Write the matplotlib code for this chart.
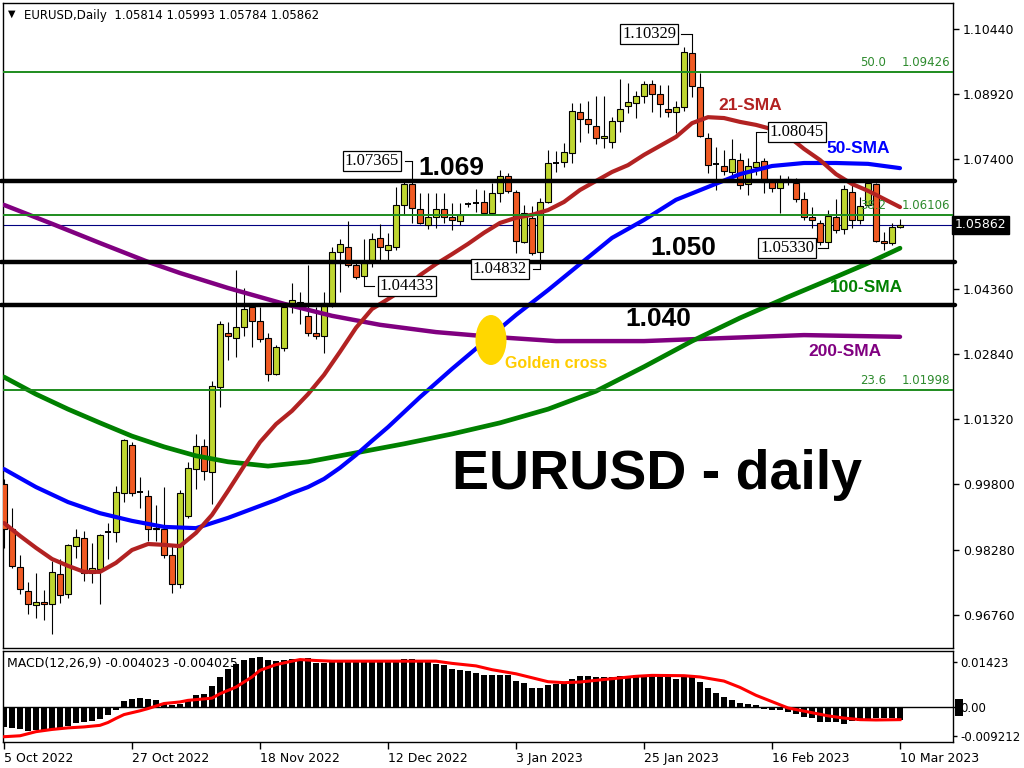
import matplotlib
matplotlib.use('Agg')
import matplotlib.pyplot as plt
from matplotlib.patches import Rectangle, Ellipse

# ---------------- data ----------------
date_labels = ['5 Oct 2022', '27 Oct 2022', '18 Nov 2022', '12 Dec 2022',
               '3 Jan 2023', '25 Jan 2023', '16 Feb 2023', '10 Mar 2023']
date_pos = [0, 16, 32, 48, 64, 80, 96, 112]

opens = [0.9982, 0.9875, 0.9788, 0.9732, 0.9699, 0.9706, 0.9702, 0.9772, 0.9725, 0.9837,
         0.9856, 0.9774, 0.9783, 0.9870, 0.9870, 0.9961, 1.0073, 0.9963, 0.9952, 0.9879,
         0.9875, 0.9816, 0.9748, 0.9907, 1.0017, 1.0071, 1.0010, 1.0207, 1.0333, 1.0323,
         1.0347, 1.0394, 1.0361, 1.0323, 1.0239, 1.0298, 1.0398, 1.0407, 1.0373, 1.0335,
         1.0326, 1.0403, 1.0522, 1.0534, 1.0492, 1.0466, 1.0504, 1.0555, 1.0527, 1.0534,
         1.0632, 1.0681, 1.0623, 1.0585, 1.0604, 1.0623, 1.0604, 1.0595, 1.0635, 1.0637,
         1.0639, 1.0614, 1.0660, 1.0700, 1.0663, 1.0546, 1.0602, 1.0522, 1.0639, 1.0730,
         1.0733, 1.0754, 1.0850, 1.0833, 1.0817, 1.0789, 1.0780, 1.0829, 1.0864, 1.0871,
         1.0887, 1.0915, 1.0892, 1.0857, 1.0850, 1.0861, 1.0988, 1.0908, 1.0789, 1.0728,
         1.0723, 1.0709, 1.0737, 1.0681, 1.0721, 1.0735, 1.0686, 1.0672, 1.0693, 1.0684,
         1.0646, 1.0604, 1.0590, 1.0546, 1.0604, 1.0576, 1.0663, 1.0597, 1.0632, 1.0681,
         1.0548, 1.0544, 1.05814]
highs = [0.9994, 0.9926, 0.9816, 0.9753, 0.9774, 0.9734, 0.9802, 0.9807, 0.9842, 0.9875,
         0.9872, 0.9844, 0.9865, 0.9889, 0.9977, 1.0087, 1.0080, 0.9998, 0.9966, 0.9933,
         0.9975, 0.9842, 0.9966, 1.0033, 1.0097, 1.0087, 1.0221, 1.0363, 1.0359, 1.0480,
         1.0438, 1.0396, 1.0394, 1.0333, 1.0307, 1.0403, 1.0450, 1.0429, 1.0492, 1.0394,
         1.0429, 1.0534, 1.0553, 1.0595, 1.0504, 1.0553, 1.0567, 1.0588, 1.0567, 1.0674,
         1.0686, 1.07365, 1.0660, 1.0660, 1.0660, 1.0660, 1.0637, 1.0637, 1.0639, 1.0670,
         1.0667, 1.0684, 1.0714, 1.0707, 1.0667, 1.0632, 1.0630, 1.0649, 1.0761, 1.0759,
         1.0777, 1.0871, 1.0871, 1.0875, 1.0887, 1.0887, 1.0838, 1.0927, 1.0917, 1.0899,
         1.0922, 1.0924, 1.0913, 1.0913, 1.0875, 1.1002, 1.10329, 1.0941, 1.0801, 1.0768,
         1.0761, 1.0787, 1.0754, 1.0742, 1.08045, 1.0742, 1.0691, 1.0702, 1.0700, 1.0695,
         1.0663, 1.0628, 1.0597, 1.0621, 1.0646, 1.0679, 1.0679, 1.0651, 1.0686, 1.0684,
         1.0569, 1.0590, 1.05993]
lows = [0.9832, 0.9786, 0.9725, 0.9678, 0.9669, 0.9664, 0.9631, 0.9704, 0.9716, 0.9809,
        0.9755, 0.9751, 0.9702, 0.9805, 0.9846, 0.9940, 0.9954, 0.9924, 0.9849, 0.9849,
        0.9809, 0.9727, 0.9739, 0.9902, 0.9970, 0.9991, 0.9935, 1.0160, 1.0270, 1.0277,
        1.0328, 1.0302, 1.0312, 1.0221, 1.0235, 1.0293, 1.0380, 1.0354, 1.0328, 1.0319,
        1.0288, 1.0394, 1.0429, 1.0487, 1.0461, 1.04433, 1.0487, 1.0504, 1.0504, 1.0527,
        1.0609, 1.0592, 1.0588, 1.0576, 1.0578, 1.0592, 1.0574, 1.0585, 1.0628, 1.0616,
        1.0611, 1.0611, 1.0639, 1.0660, 1.0520, 1.0544, 1.0515, 1.04832, 1.0637, 1.0709,
        1.0721, 1.0730, 1.0780, 1.0801, 1.0775, 1.0766, 1.0766, 1.0803, 1.0847, 1.0836,
        1.0871, 1.0850, 1.0838, 1.0838, 1.0801, 1.0852, 1.0885, 1.0792, 1.0707, 1.0667,
        1.0702, 1.0686, 1.0670, 1.0656, 1.0702, 1.0660, 1.0663, 1.0614, 1.0680, 1.0639,
        1.0597, 1.0578, 1.0540, 1.0533, 1.0567, 1.0565, 1.0578, 1.0588, 1.0628, 1.0546,
        1.0527, 1.0539, 1.05784]
closes = [0.9877, 0.9790, 0.9737, 0.9702, 0.9706, 0.9702, 0.9776, 0.9723, 0.9839, 0.9858,
          0.9774, 0.9786, 0.9863, 0.9871, 0.9963, 1.0083, 0.9961, 0.9964, 0.9875, 0.9875,
          0.9816, 0.9748, 0.9959, 1.0019, 1.0071, 1.0012, 1.0209, 1.0354, 1.0326, 1.0347,
          1.0391, 1.0363, 1.0319, 1.0239, 1.0302, 1.0394, 1.0412, 1.0394, 1.0335, 1.0328,
          1.0405, 1.0522, 1.0541, 1.0492, 1.0464, 1.0501, 1.0553, 1.0534, 1.0539, 1.0632,
          1.0681, 1.0625, 1.0590, 1.0604, 1.0623, 1.0604, 1.0597, 1.0609, 1.0636, 1.0638,
          1.0614, 1.0660, 1.0700, 1.0665, 1.0548, 1.0614, 1.0520, 1.0639, 1.0730, 1.0731,
          1.0756, 1.0852, 1.0833, 1.0822, 1.0789, 1.0794, 1.0829, 1.0857, 1.0873, 1.0887,
          1.0915, 1.0892, 1.0868, 1.0850, 1.0861, 1.0990, 1.0910, 1.0794, 1.0726, 1.0727,
          1.0712, 1.0740, 1.0679, 1.0723, 1.0733, 1.0686, 1.0672, 1.0691, 1.0690, 1.0646,
          1.0604, 1.0597, 1.0546, 1.0607, 1.0574, 1.0670, 1.0597, 1.0630, 1.0684, 1.0548,
          1.0544, 1.0581, 1.05862]

sma21_idx = [0, 2, 4, 6, 8, 10, 12, 14, 16, 18, 20, 22, 24, 26, 28, 30, 32, 34, 36, 38,
             40, 42, 44, 46, 48, 50, 52, 54, 56, 58, 60, 62, 64, 66, 68, 70, 72, 74, 76, 78,
             80, 82, 84, 86, 88, 90, 92, 94, 96, 98, 100, 102, 104, 106, 108, 110, 112]
sma21_val = [0.9890, 0.9860, 0.9832, 0.9806, 0.9790, 0.9776, 0.9776, 0.9797, 0.9827, 0.9841,
             0.9839, 0.9836, 0.9867, 0.9909, 0.9965, 1.0023, 1.0079, 1.0121, 1.0152, 1.0191,
             1.0236, 1.0290, 1.0346, 1.0390, 1.0413, 1.0437, 1.0469, 1.0495, 1.0518, 1.0542,
             1.0568, 1.0591, 1.0603, 1.0610, 1.0621, 1.0640, 1.0668, 1.0689, 1.0710, 1.0726,
             1.0750, 1.0771, 1.0792, 1.0824, 1.0838, 1.0836, 1.0827, 1.0820, 1.0810, 1.0794,
             1.0764, 1.0738, 1.0705, 1.0682, 1.0666, 1.0647, 1.0628]

sma50_idx = [0, 4, 8, 12, 16, 20, 24, 28, 32, 34, 36, 38, 40, 42, 44, 46, 48, 52, 56, 60,
             64, 68, 72, 76, 80, 84, 88, 92, 96, 100, 104, 108, 112]
sma50_val = [1.0016, 0.9974, 0.9939, 0.9913, 0.9895, 0.9881, 0.9878, 0.9902, 0.9930, 0.9944,
             0.9960, 0.9974, 0.9993, 1.0019, 1.0049, 1.0082, 1.0114, 1.0184, 1.0250, 1.0313,
             1.0376, 1.0434, 1.0495, 1.0556, 1.0598, 1.0645, 1.0675, 1.0705, 1.0724, 1.0731,
             1.0731, 1.0729, 1.0719]

sma100_idx = [0, 4, 8, 12, 16, 20, 24, 28, 33, 38, 44, 50, 56, 62, 68, 74, 80, 86, 92, 98,
              104, 108, 112]
sma100_val = [1.0231, 1.0191, 1.0156, 1.0124, 1.0093, 1.0068, 1.0047, 1.0033, 1.0023, 1.0033,
              1.0054, 1.0075, 1.0098, 1.0124, 1.0156, 1.0198, 1.0255, 1.0315, 1.0369, 1.0418,
              1.0465, 1.0497, 1.0532]

sma200_idx = [0, 6, 12, 18, 22, 28, 35, 41, 47, 54, 61, 69, 80, 87, 100, 112]
sma200_val = [1.0633, 1.0589, 1.0544, 1.0500, 1.0474, 1.0439, 1.0402, 1.0374, 1.0353, 1.0336,
              1.0325, 1.0315, 1.0315, 1.0320, 1.0329, 1.0325]

macd_hist = [-0.0063, -0.0065, -0.0069, -0.0076, -0.0074, -0.0074, -0.0069, -0.0069, -0.0060, -0.0050,
             -0.0047, -0.0045, -0.0037, -0.0026, -0.0008, 0.0018, 0.0026, 0.0030, 0.0026, 0.0023,
             0.0013, 0.0005, 0.0011, 0.0018, 0.0039, 0.0042, 0.0066, 0.0095, 0.0121, 0.0135,
             0.0150, 0.0156, 0.0159, 0.0150, 0.0145, 0.0150, 0.0152, 0.0152, 0.0154, 0.0138,
             0.0138, 0.0144, 0.0150, 0.0150, 0.0148, 0.0148, 0.0148, 0.0148, 0.0148, 0.0148,
             0.0153, 0.0153, 0.0148, 0.0148, 0.0137, 0.0132, 0.0121, 0.0118, 0.0115, 0.0109,
             0.0102, 0.0102, 0.0102, 0.0100, 0.0083, 0.0075, 0.0059, 0.0059, 0.0069, 0.0074,
             0.0074, 0.0089, 0.0097, 0.0099, 0.0095, 0.0095, 0.0095, 0.0097, 0.0097, 0.0100,
             0.0102, 0.0099, 0.0099, 0.0095, 0.0087, 0.0097, 0.0094, 0.0079, 0.0059, 0.0044,
             0.0032, 0.0022, 0.0012, 0.0009, 0.0005, -0.0005, -0.0011, -0.0011, -0.0016, -0.0023,
             -0.0031, -0.0036, -0.0048, -0.0048, -0.0048, -0.0053, -0.0043, -0.0045, -0.0038, -0.0036,
             -0.0036, -0.0036, -0.0040]

sig_idx = [0, 2, 4, 6, 8, 10, 12, 13, 14, 15, 17, 18, 19, 20, 22, 23, 26, 27, 29, 31,
           32, 34, 36, 37, 39, 41, 54, 56, 59, 61, 64, 68, 70, 72, 75, 77, 79, 81, 85, 87,
           90, 92, 94, 96, 98, 101, 103, 105, 107, 109, 112]
sig_val = [-0.0094, -0.0091, -0.0078, -0.0071, -0.0066, -0.0063, -0.0058, -0.0049, -0.0036, -0.0024,
           -0.0012, -0.0005, 0.0003, 0.0011, 0.0016, 0.0021, 0.0028, 0.0042, 0.0063, 0.0095,
           0.0116, 0.0134, 0.0145, 0.0150, 0.0147, 0.0145, 0.0145, 0.0138, 0.0130, 0.0118,
           0.0105, 0.0080, 0.0077, 0.0079, 0.0087, 0.0092, 0.0097, 0.0100, 0.0099, 0.0095,
           0.0082, 0.0062, 0.0037, 0.0017, -0.0003, -0.0018, -0.0028, -0.0035, -0.0040, -0.0041,
           -0.0040]

price_ticks = [1.10440, 1.08920, 1.07400, 1.04360, 1.02840, 1.01320, 0.99800, 0.98280, 0.96760]
macd_ticks = [0.01423, 0.0, -0.009212]
macd_tick_labels = ['0.01423', '0.00', '-0.009212']

sr_levels = [1.069, 1.050, 1.040]
sr_labels = ['1.069', '1.050', '1.040']
fib_levels = [1.09426, 1.06106, 1.01998]
fib_names = ['50.0', '38.2', '23.6']
last_price = 1.05862

# ---------------- layout helpers ----------------
W, H = 1024, 768


def bx(px):
    return (px - 4) / 8.0


def py(pix):
    return 1.1044 - (pix - 29) / 4281.0


fig = plt.figure(figsize=(10.24, 7.68), dpi=100)
fig.patch.set_facecolor('white')
ax = fig.add_axes([3 / W, 1 - 648 / H, 950 / W, 645 / H])
axm = fig.add_axes([3 / W, 1 - 742 / H, 950 / W, 91 / H])

for a in (ax, axm):
    for s in a.spines.values():
        s.set_color('black')
        s.set_linewidth(1.0)
    a.set_facecolor('white')
    a.set_xlim(bx(3), bx(953))

ax.set_ylim(py(648), py(3))
axm.set_ylim(-35 / 3162.0, 56 / 3162.0)

bull = '#BFD630'
bear = '#F05A23'

# candles
for i, (o, h, l, c) in enumerate(zip(opens, highs, lows, closes)):
    ax.plot([i, i], [l, h], color='black', lw=0.8, zorder=3, solid_capstyle='butt')
    if abs(c - o) < 0.00015:
        ax.plot([i - 0.4, i + 0.4], [o, o], color='black', lw=1.4, zorder=4, solid_capstyle='butt')
    else:
        col = bull if c > o else bear
        ax.add_patch(Rectangle((i - 0.38, min(o, c)), 0.76, abs(c - o), facecolor=col,
                               edgecolor='black', lw=0.8, zorder=4))

# moving averages
line_kw = dict(zorder=5, solid_capstyle='round', solid_joinstyle='round')
ax.plot(sma200_idx, sma200_val, color='#800080', lw=3.2, **line_kw)
ax.plot(sma100_idx, sma100_val, color='#008000', lw=3.4, **line_kw)
ax.plot(sma50_idx, sma50_val, color='#0000FF', lw=3.0, **line_kw)
ax.plot(sma21_idx, sma21_val, color='#B22222', lw=3.0, **line_kw)

# current price line
ax.axhline(last_price, color='#000080', lw=0.8, zorder=2)

# fibonacci lines
for lv, nm in zip(fib_levels, fib_names):
    ax.axhline(lv, color='#1E8C1E', lw=1.4, zorder=6)
    ax.text(bx(860), lv + 3 / 4281.0, nm, color='#2E8B2E', fontsize=8.5,
            family='DejaVu Sans', ha='left', va='bottom', zorder=7)
    ax.text(bx(950), lv + 3 / 4281.0, '%.5f' % lv, color='#2E8B2E', fontsize=8.5,
            family='DejaVu Sans', ha='right', va='bottom', zorder=7)

# support / resistance lines
for lv in sr_levels:
    ax.plot([bx(1), bx(955)], [lv, lv], color='black', lw=3.2, zorder=6,
            solid_capstyle='round', clip_on=False)

bigfont = dict(family='Liberation Sans', weight='bold', zorder=8)
ax.text(bx(418), py(168), sr_labels[0], fontsize=19, ha='left', va='center', color='black', **bigfont)
ax.text(bx(650), py(248), sr_labels[1], fontsize=19, ha='left', va='center', color='black', **bigfont)
ax.text(bx(625), py(319), sr_labels[2], fontsize=19, ha='left', va='center', color='black', **bigfont)

ax.text(bx(452), py(475), 'EURUSD - daily', fontsize=40, ha='left', va='center', color='black', **bigfont)
ax.text(bx(718), py(106), '21-SMA', fontsize=12.5, ha='left', va='center', color='#B22222', **bigfont)
ax.text(bx(826), py(149), '50-SMA', fontsize=12.5, ha='left', va='center', color='#0000FF', **bigfont)
ax.text(bx(830), py(288), '100-SMA', fontsize=12.5, ha='left', va='center', color='#008000', **bigfont)
ax.text(bx(808), py(352), '200-SMA', fontsize=12.5, ha='left', va='center', color='#800080', **bigfont)
ax.text(bx(505), py(364), 'Golden cross', fontsize=11.5, ha='left', va='center', color='#FFCC00', **bigfont)

ax.add_patch(Ellipse((bx(491), py(340)), 31 / 8.0, 50 / 4281.0, facecolor='#FFD700',
                     edgecolor='none', zorder=7))

# boxed swing labels
swing_bars = [86, 51, 94, 45, 67, 103]
swing_vals = [highs[86], highs[51], highs[94], lows[45], lows[67], lows[103]]
swing_box_cx = [649, 372, 797, 407, 500, 787]
swing_box_w = [64, 65, 63, 66, 65, 62]
for b, v, cx, w in zip(swing_bars, swing_vals, swing_box_cx, swing_box_w):
    edge = cx + w / 2 if b > bx(cx) else cx - w / 2
    ax.plot([bx(edge), b], [v, v], color='black', lw=0.8, zorder=7)
    ax.text(bx(cx), v, '%.5f' % v, fontsize=12, family='Liberation Serif', ha='center',
            va='center', zorder=8,
            bbox=dict(boxstyle='square,pad=0.12', facecolor='white', edgecolor='black', lw=0.9))

# price axis
ax.yaxis.tick_right()
ax.set_yticks(price_ticks)
ax.set_yticklabels(['%.5f' % t for t in price_ticks])
ax.tick_params(axis='y', length=4, width=1, labelsize=9, pad=3, colors='black')
ax.set_xticks([])
ax.text(1.002, last_price, '%.5f' % last_price, transform=ax.get_yaxis_transform(),
        fontsize=9, color='white', ha='left', va='center', family='DejaVu Sans', zorder=9,
        bbox=dict(boxstyle='square,pad=0.2', facecolor='black', edgecolor='black'))

# header
fig.text(8 / W, 1 - 14 / H, '\u25BC', fontsize=7, ha='left', va='center', family='DejaVu Sans')
fig.text(24 / W, 1 - 15 / H, 'EURUSD,Daily  1.05814 1.05993 1.05784 1.05862', fontsize=8.5,
         ha='left', va='center', family='DejaVu Sans')

# MACD panel
axm.bar(range(len(macd_hist)), macd_hist, width=0.78, color='black', zorder=2)
axm.axhline(0, color='black', lw=1.0, zorder=3)
axm.plot(sig_idx, sig_val, color='#FF0000', lw=2.2, zorder=4, solid_joinstyle='round')
axm.yaxis.tick_right()
axm.set_yticks(macd_ticks)
axm.set_yticklabels(macd_tick_labels)
axm.tick_params(axis='y', length=3, width=1, labelsize=8.5, pad=2)
axm.set_xticks(date_pos)
axm.set_xticklabels(date_labels)
for lab in axm.get_xticklabels():
    lab.set_ha('left')
axm.tick_params(axis='x', length=5, width=1, labelsize=9, pad=2)
axm.text(0.004, 0.86, 'MACD(12,26,9) -0.004023 -0.004025', transform=axm.transAxes,
         fontsize=9, ha='left', va='center', family='DejaVu Sans', zorder=6)
fig.patches.append(Rectangle((955 / W, 1 - 716 / H), 8 / W, 17 / H, transform=fig.transFigure,
                             facecolor='black', edgecolor='none', zorder=0))

fig.savefig('out.png', dpi=100, facecolor='white')
